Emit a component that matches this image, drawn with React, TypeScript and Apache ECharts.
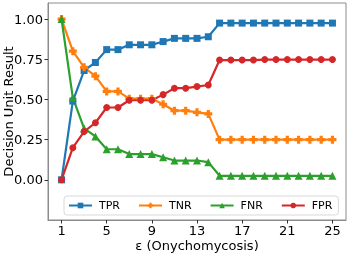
import React, { useEffect, useRef } from "react";
import * as echarts from "echarts";

const epsilons = [1, 2, 3, 4, 5, 6, 7, 8, 9, 10, 11, 12, 13, 14, 15, 16, 17, 18, 19, 20, 21, 22, 23, 24, 25];
const tpr = [0, 0.49, 0.68, 0.73, 0.81, 0.81, 0.84, 0.84, 0.84, 0.86, 0.88, 0.88, 0.88, 0.89, 0.975, 0.975, 0.975, 0.975, 0.975, 0.975, 0.975, 0.975, 0.975, 0.975, 0.975];
const tnr = [1, 0.8, 0.7, 0.645, 0.55, 0.55, 0.505, 0.505, 0.505, 0.47, 0.43, 0.43, 0.42, 0.41, 0.25, 0.25, 0.25, 0.25, 0.25, 0.25, 0.25, 0.25, 0.25, 0.25, 0.25];
const fnr = [1, 0.51, 0.32, 0.27, 0.19, 0.19, 0.16, 0.16, 0.16, 0.14, 0.12, 0.12, 0.12, 0.11, 0.025, 0.025, 0.025, 0.025, 0.025, 0.025, 0.025, 0.025, 0.025, 0.025, 0.025];
const fpr = [0, 0.2, 0.3, 0.355, 0.45, 0.45, 0.495, 0.495, 0.495, 0.53, 0.57, 0.57, 0.58, 0.59, 0.745, 0.745, 0.745, 0.745, 0.748, 0.748, 0.748, 0.748, 0.748, 0.748, 0.748];
const xTicks = [1, 5, 9, 13, 17, 21, 25];
const yTicks = [0, 0.25, 0.5, 0.75, 1.0];
const seriesNames = ["TPR", "TNR", "FNR", "FPR"];
const colors = ["#1f77b4", "#ff7f0e", "#2ca02c", "#d62728"];

const plusPath = "path://M3,0H7V3H10V7H7V10H3V7H0V3H3Z";
const symbols = ["rect", plusPath, "triangle", "circle"];

export default function App() {
  const ref = useRef<HTMLDivElement>(null);
  useEffect(() => {
    if (!ref.current) return;
    const chart = echarts.init(ref.current, null, { renderer: "svg" });
    const font = "DejaVu Sans";
    const dataSets = [tpr, tnr, fnr, fpr];
    chart.setOption({
      animation: false,
      textStyle: { fontFamily: font },
      grid: {
        left: 48,
        top: 3,
        width: 298,
        height: 217,
        show: true,
        borderColor: "#8c8c8c",
        borderWidth: 1,
        outerBoundsMode: "none",
        containLabel: false,
      },
      legend: {
        left: 64,
        top: 196,
        width: 290,
        orient: "horizontal",
        padding: [4, 6, 4, 4],
        itemWidth: 23,
        itemHeight: 7,
        itemGap: 18,
        backgroundColor: "#ffffff",
        borderColor: "#d9d9d9",
        borderWidth: 1,
        borderRadius: 3,
        textStyle: { fontFamily: font, fontSize: 11, color: "#000", padding: [0, 0, 0, 2] },
        data: seriesNames,
      },
      xAxis: {
        type: "value",
        min: -0.2,
        max: 26.2,
        name: "ε (Onychomycosis)",
        nameLocation: "middle",
        nameGap: 19,
        nameMoveOverlap: false,
        nameTextStyle: { fontFamily: font, fontSize: 13, color: "#000" },
        axisLine: { show: true, onZero: false, lineStyle: { color: "#8c8c8c" } },
        axisTick: { show: true, length: 3.5, customValues: xTicks, lineStyle: { color: "#333" } },
        axisLabel: { customValues: xTicks, fontSize: 13, color: "#000", margin: 4, fontFamily: font },
        splitLine: { show: false },
      },
      yAxis: {
        type: "value",
        min: -0.25,
        max: 1.1,
        name: "Decision Unit Result",
        nameLocation: "middle",
        nameGap: 33,
        nameMoveOverlap: false,
        nameTextStyle: { fontFamily: font, fontSize: 13, color: "#000" },
        axisLine: { show: true, onZero: false, lineStyle: { color: "#8c8c8c" } },
        axisTick: { show: true, length: 3.5, customValues: yTicks, lineStyle: { color: "#333" } },
        axisLabel: {
          customValues: yTicks,
          fontSize: 13,
          color: "#000",
          margin: 5,
          fontFamily: font,
          formatter: (v: number) => v.toFixed(2),
        },
        splitLine: { show: false },
      },
      series: seriesNames.map((name, i) => ({
        name,
        type: "line",
        data: epsilons.map((x, j) => [x, dataSets[i][j]]),
        symbol: symbols[i],
        symbolSize: i === 1 ? 8 : i === 2 ? 8 : 7,
        showAllSymbol: true,
        lineStyle: { color: colors[i], width: 2.2 },
        itemStyle: { color: colors[i] },
        emphasis: { disabled: true },
      })),
    });
    return () => chart.dispose();
  }, []);
  return (
    <div
      ref={ref}
      style={{ position: "fixed", left: 0, top: 0, width: 349, height: 257 }}
    />
  );
}
